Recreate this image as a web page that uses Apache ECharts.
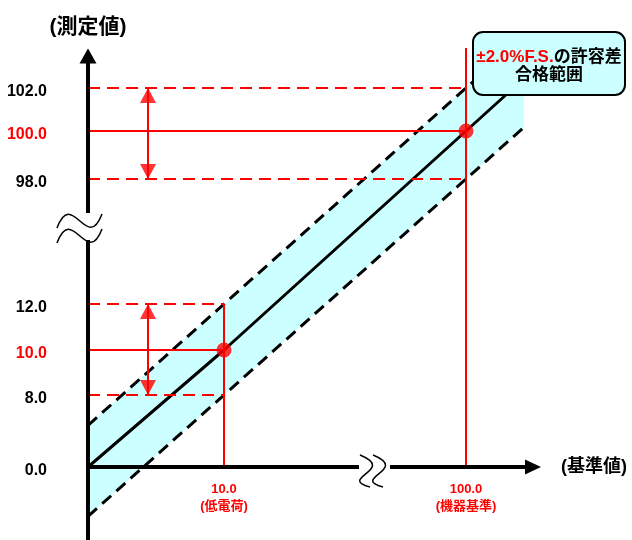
<!DOCTYPE html>
<html lang="ja">
<head>
    <meta charset="UTF-8">
    <script src="https://cdn.jsdelivr.net/npm/echarts@6/dist/echarts.min.js"></script>
    <title>±2.0%F.S.の許容差</title>
</head>
<body>
    <style>
        html, body { margin: 0; background: #fff; }
        #main { width: 632px; height: 540px; }
    </style>
    <div id="main"></div>
    <script>
        // values
        var yTicks = [0, 8, 10, 12, 98, 100, 102];   // 測定値 axis labels
        var refValues = [10, 100];                    // 基準値
        var refNotes = ['(低電荷)', '(機器基準)'];
        var measured = [10, 100];                     // 測定値 at each reference
        var tolerance = 2.0;                          // ±%F.S.

        // schematic (broken) axes: value -> offset in px from the origin
        var yKnots = { v: [0, 8, 10, 12, 98, 100, 102], p: [0, 72, 117, 163, 288, 336, 379] };
        var xKnots = { v: [0, 10, 100], p: [0, 136, 378] };

        var GRID_LEFT = 88, GRID_TOP = 56;
        var X_MAX = 445, Y_MIN = -73, Y_MAX = 411;
        var Y_TOP = 419;        // red guide to the top
        var BAND_END = 436;     // right end of the band
        var ARROW_X = 60;       // double arrows
        var RED = '#ff0000', CYAN = '#ccffff';
        var FONT = "'Liberation Sans', 'Noto Sans CJK JP', sans-serif";

        function scale(k, v) {
            var i = 1;
            while (i < k.v.length - 1 && v > k.v[i]) i++;
            var t = (v - k.v[i - 1]) / (k.v[i] - k.v[i - 1]);
            return k.p[i - 1] + t * (k.p[i] - k.p[i - 1]);
        }
        function X(v) { return scale(xKnots, v); }
        function Y(v) { return scale(yKnots, v); }
        function toPx(p) { return [GRID_LEFT + p[0], GRID_TOP + (Y_MAX - p[1])]; }

        function pts(off) {
            return refValues.map(function (r, i) { return [X(r), Y(measured[i] + off)]; });
        }
        function lineThrough(a, b) {
            var m = (b[1] - a[1]) / (b[0] - a[0]);
            return function (x) { return [x, a[1] + m * (x - a[0])]; };
        }
        var upper = lineThrough.apply(null, pts(tolerance));
        var lower = lineThrough.apply(null, pts(-tolerance));
        var center = lineThrough.apply(null, pts(0));

        function seg(data, color, width, type, z) {
            return {
                type: 'line', data: data, symbol: 'none', clip: false, silent: true, z: z,
                lineStyle: { color: color, width: width, type: type || 'solid', cap: 'butt' }
            };
        }

        var series = [];
        // band
        series.push({
            type: 'custom', z: 1, clip: false, silent: true, data: [[0, 0]],
            renderItem: function (params, api) {
                var poly = [upper(0), upper(BAND_END), lower(BAND_END), lower(0)].map(function (p) {
                    return api.coord(p);
                });
                return { type: 'polygon', shape: { points: poly }, style: { fill: CYAN } };
            }
        });
        series.push(seg([upper(0), upper(BAND_END)], '#000', 3, [12, 7], 2));
        series.push(seg([lower(0), lower(BAND_END)], '#000', 3, [12, 7], 2));
        series.push(seg([[X(0), Y(0)]].concat(pts(0), [center(BAND_END)]), '#000', 3, 'solid', 2));

        var heads = [];
        refValues.forEach(function (r, i) {
            var m = measured[i];
            var last = i === refValues.length - 1;
            series.push(seg([[0, Y(m)], [X(r), Y(m)]], RED, 2, 'solid', 3));
            series.push(seg([[X(r), 0], [X(r), last ? Y_TOP : Y(m + tolerance)]], RED, 2, 'solid', 3));
            series.push(seg([[0, Y(m + tolerance)], [X(r), Y(m + tolerance)]], RED, 2, [12, 7], 3));
            series.push(seg([[0, Y(m - tolerance)], [X(r), Y(m - tolerance)]], RED, 2, [12, 7], 3));
            series.push(seg([[ARROW_X, Y(m + tolerance)], [ARROW_X, Y(m - tolerance)]], RED, 2, 'solid', 3));
            heads.push({ value: [ARROW_X, Y(m + tolerance)], symbolOffset: [0, '50%'] });
            heads.push({ value: [ARROW_X, Y(m - tolerance)], symbolRotate: 180, symbolOffset: [0, '-50%'] });
        });
        series.push({
            type: 'scatter', z: 4, silent: true, symbol: 'triangle', symbolSize: [16, 15],
            itemStyle: { color: RED }, data: heads
        });
        series.push({
            type: 'scatter', z: 4, silent: true, symbol: 'circle', symbolSize: 15,
            itemStyle: { color: RED },
            data: refValues.map(function (r, i) { return [X(r), Y(measured[i])]; })
        });

        function near(list, v) {
            for (var i = 0; i < list.length; i++) if (Math.abs(list[i] - v) < 0.5) return i;
            return -1;
        }
        var yPos = yTicks.map(Y);
        var xPos = refValues.map(X);
        var lbl = { fontSize: 16, fontWeight: 'bold', fontFamily: FONT, padding: [7, 0, 0, 0] };

        // break marks
        var wave = { stroke: '#000', lineWidth: 1.5, fill: null };
        function yWave(dy) {
            return { type: 'bezierCurve', z: 101, shape: { x1: -31, y1: 1 + dy, cpx1: -16, cpy1: -40 + dy, cpx2: -1, cpy2: 27 + dy, x2: 14, y2: -13 + dy }, style: wave };
        }
        function xWave(dx) {
            return { type: 'bezierCurve', z: 101, shape: { x1: -15 + dx, y1: -12, cpx1: 22 + dx, cpy1: 3, cpx2: -38 + dx, cpy2: 11, x2: -5 + dx, y2: 20 }, style: wave };
        }
        var yBreak = toPx([0, 240]);
        var xBreak = toPx([287, 0]);

        var chart = echarts.init(document.getElementById('main'));
        chart.setOption({
            animation: false,
            backgroundColor: '#fff',
            grid: { left: GRID_LEFT, top: GRID_TOP, right: 632 - GRID_LEFT - X_MAX, bottom: 0, outerBoundsMode: 'none' },
            xAxis: {
                type: 'value', min: 0, max: X_MAX, z: 5,
                position: 'bottom', offset: Y_MIN,
                name: '(基準値)', nameLocation: 'end', nameGap: 28,
                nameTextStyle: { fontSize: 18, fontWeight: 'bold', color: '#000', fontFamily: FONT },
                axisLine: { onZero: false, lineStyle: { color: '#000', width: 4 }, symbol: ['none', 'triangle'], symbolSize: [15, 16] },
                axisTick: { show: false },
                splitLine: { show: false },
                axisLabel: {
                    customValues: xPos, margin: 14,
                    formatter: function (v) {
                        var i = near(xPos, v);
                        return i < 0 ? '' : '{n|' + refValues[i].toFixed(1) + '}\n{n|' + refNotes[i] + '}';
                    },
                    rich: { n: { fontSize: 13, fontWeight: 'bold', color: RED, fontFamily: FONT, lineHeight: 17 } }
                }
            },
            yAxis: {
                type: 'value', min: Y_MIN, max: Y_MAX, z: 5,
                name: '(測定値)', nameLocation: 'end', nameGap: 18,
                nameTextStyle: { fontSize: 21, fontWeight: 'bold', color: '#000', fontFamily: FONT },
                axisLine: { onZero: false, lineStyle: { color: '#000', width: 4 }, symbol: ['none', 'triangle'], symbolSize: [17, 15] },
                axisTick: { show: false },
                splitLine: { show: false },
                axisLabel: {
                    customValues: yPos, margin: 41,
                    formatter: function (v) {
                        var i = near(yPos, v);
                        if (i < 0) return '';
                        var hot = measured.indexOf(yTicks[i]) >= 0;
                        return '{' + (hot ? 'r' : 'k') + '|' + yTicks[i].toFixed(1) + '}';
                    },
                    rich: {
                        k: Object.assign({ color: '#000' }, lbl),
                        r: Object.assign({ color: RED }, lbl)
                    }
                }
            },
            graphic: [
                {
                    type: 'group', x: yBreak[0], y: yBreak[1], z: 100,
                    children: [
                        { type: 'rect', z: 100, shape: { x: -4, y: -14, width: 8, height: 27 }, style: { fill: '#fff' } },
                        yWave(0), yWave(15)
                    ]
                },
                {
                    type: 'group', x: xBreak[0], y: xBreak[1], z: 100,
                    children: [
                        { type: 'rect', z: 100, shape: { x: -16, y: -4, width: 31, height: 8 }, style: { fill: '#fff' } },
                        xWave(0), xWave(13)
                    ]
                },
                {
                    type: 'group', x: 473, y: 32, z: 100,
                    children: [
                        { type: 'rect', z: 100, shape: { x: 0, y: 0, width: 152, height: 63, r: 10 }, style: { fill: CYAN, stroke: '#000', lineWidth: 2 } },
                        {
                            type: 'text', z: 101, x: 76, y: 34,
                            style: {
                                text: '{r|±' + tolerance.toFixed(1) + '%F.S.}{k|の許容差}\n{k|合格範囲}',
                                align: 'center', verticalAlign: 'middle',
                                rich: {
                                    r: { fontSize: 17, fontWeight: 'bold', fill: RED, fontFamily: FONT, lineHeight: 18 },
                                    k: { fontSize: 17, fontWeight: 'bold', fill: '#000', fontFamily: FONT, lineHeight: 18 }
                                }
                            }
                        }
                    ]
                }
            ],
            series: series
        });
    </script>
</body>
</html>
